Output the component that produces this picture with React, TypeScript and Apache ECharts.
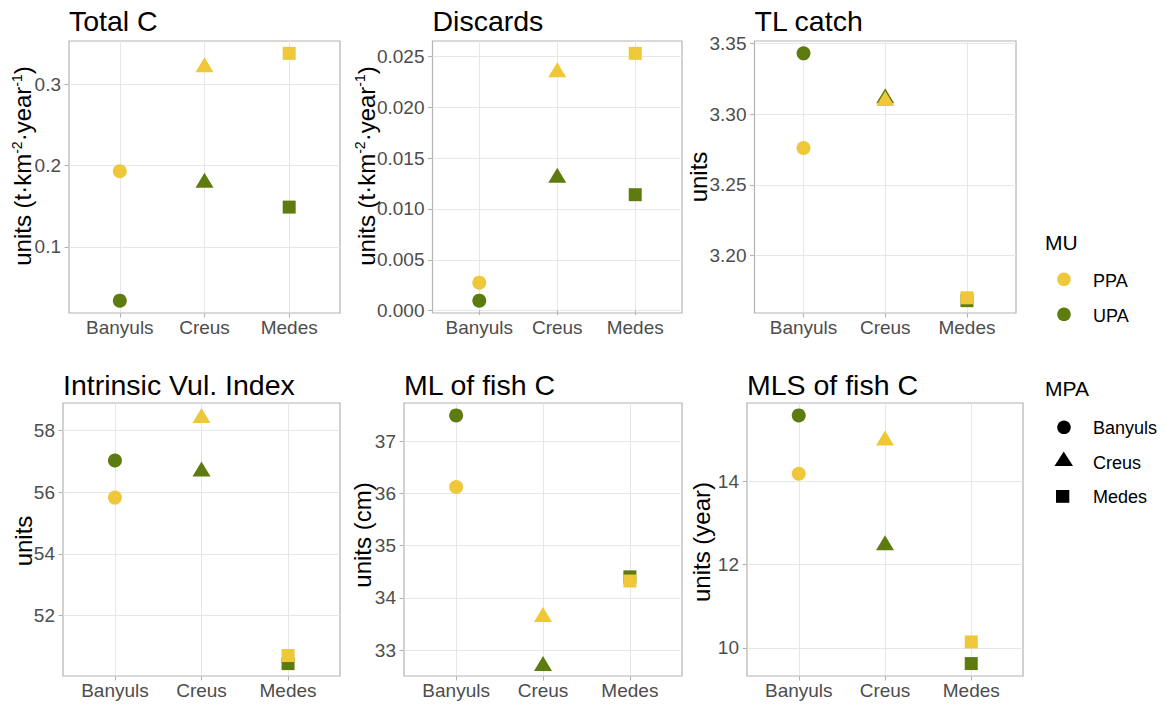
import React, { useEffect, useRef } from 'react';
import * as echarts from 'echarts';

// ---------- data ----------
const categories = ['Banyuls', 'Creus', 'Medes'];
const muGroups = ['PPA', 'UPA'];
const panelTitles = ['Total C', 'Discards', 'TL catch', 'Intrinsic Vul. Index', 'ML of fish C', 'MLS of fish C'];

const totalC_PPA = [0.193, 0.324, 0.338];
const totalC_UPA = [0.034, 0.182, 0.149];
const discards_PPA = [0.00275, 0.0237, 0.0253];
const discards_UPA = [0.00098, 0.0133, 0.0114];
const tlCatch_PPA = [3.276, 3.311, 3.170];
const tlCatch_UPA = [3.343, 3.313, 3.168];
const ivi_PPA = [55.82, 58.48, 50.71];
const ivi_UPA = [57.02, 56.75, 50.45];
const mlFish_PPA = [36.12, 33.68, 34.32];
const mlFish_UPA = [37.49, 32.74, 34.40];
const mlsFish_PPA = [14.18, 15.04, 10.14];
const mlsFish_UPA = [15.58, 12.52, 9.62];

const yTicks_totalC = [0.1, 0.2, 0.3];
const yTicks_discards = [0, 0.005, 0.01, 0.015, 0.02, 0.025];
const yTicks_tlCatch = [3.2, 3.25, 3.3, 3.35];
const yTicks_ivi = [52, 54, 56, 58];
const yTicks_mlFish = [33, 34, 35, 36, 37];
const yTicks_mlsFish = [10, 12, 14];
const xTicks = [1, 2, 3];

const yTitles = [
  'units (t·km{sup|-2}·year{sup|-1})',
  'units (t·km{sup|-2}·year{sup|-1})',
  'units',
  'units',
  'units (cm)',
  'units (year)',
];

// ---------- style ----------
const PPA_COLOR = '#EFC83A';
const UPA_COLOR = '#5E7B10';
const FONT = '"Liberation Sans", Arial, sans-serif';
const SHAPES = ['circle', 'triangle', 'rect'];
const SIZES: any[] = [14, [18, 15], 13];

const layout = [
  { left: 69, top: 41, width: 271, height: 272, nameX: 22.5, nameY: 166, titleY: 21 },
  { left: 432.5, top: 41, width: 249.5, height: 272, nameX: 366, nameY: 166, titleY: 21 },
  { left: 754.5, top: 41, width: 261.5, height: 272, nameX: 698, nameY: 177, titleY: 21 },
  { left: 63, top: 403, width: 277, height: 273, nameX: 23, nameY: 541, titleY: 384.5 },
  { left: 404, top: 403, width: 278, height: 273, nameX: 362.5, nameY: 535, titleY: 384.5 },
  { left: 747, top: 403, width: 276, height: 273, nameX: 701.5, nameY: 542, titleY: 384.5 },
];

const panelData = [
  { ppa: totalC_PPA, upa: totalC_UPA, ticks: yTicks_totalC, dec: 1 },
  { ppa: discards_PPA, upa: discards_UPA, ticks: yTicks_discards, dec: 3 },
  { ppa: tlCatch_PPA, upa: tlCatch_UPA, ticks: yTicks_tlCatch, dec: 2 },
  { ppa: ivi_PPA, upa: ivi_UPA, ticks: yTicks_ivi, dec: 0 },
  { ppa: mlFish_PPA, upa: mlFish_UPA, ticks: yTicks_mlFish, dec: 0 },
  { ppa: mlsFish_PPA, upa: mlsFish_UPA, ticks: yTicks_mlsFish, dec: 0 },
];

function buildOption() {
  const grid: any[] = [];
  const xAxis: any[] = [];
  const yAxis: any[] = [];
  const series: any[] = [];
  const graphic: any[] = [];

  panelData.forEach((p, i) => {
    const L = layout[i];
    grid.push({
      left: L.left, top: L.top, width: L.width, height: L.height,
      show: true, borderColor: '#B3B3B3', borderWidth: 1.2, backgroundColor: 'transparent',
    });
    xAxis.push({
      type: 'value', gridIndex: i, min: 0.4, max: 3.6,
      axisLine: { show: false },
      axisTick: { show: true, length: 4.5, customValues: xTicks, lineStyle: { color: '#B3B3B3', width: 1.1 } },
      axisLabel: {
        customValues: xTicks, margin: 5, color: '#4D4D4D', fontSize: 19, fontFamily: FONT,
        formatter: (v: number) => categories[Math.round(v) - 1],
      },
      splitLine: { show: true, lineStyle: { color: '#E6E6E6', width: 1 } },
    });
    yAxis.push({
      type: 'value', gridIndex: i,
      min: (e: any) => e.min - 0.05 * (e.max - e.min),
      max: (e: any) => e.max + 0.05 * (e.max - e.min),
      axisLine: { show: false },
      axisTick: { show: true, length: 4.5, customValues: p.ticks, lineStyle: { color: '#B3B3B3', width: 1.1 } },
      axisLabel: {
        customValues: p.ticks, margin: 8, color: '#4D4D4D', fontSize: 19, fontFamily: FONT,
        formatter: (v: number) => v.toFixed(p.dec),
      },
      splitLine: { show: true, lineStyle: { color: '#E6E6E6', width: 1 } },
    });
    const mk = (vals: number[]) => vals.map((v, j) => ({ value: [xTicks[j], v], symbol: SHAPES[j], symbolSize: SIZES[j] }));
    series.push({
      type: 'scatter', name: muGroups[1], xAxisIndex: i, yAxisIndex: i,
      itemStyle: { color: UPA_COLOR, opacity: 1 }, data: mk(p.upa), z: 3,
    });
    series.push({
      type: 'scatter', name: muGroups[0], xAxisIndex: i, yAxisIndex: i,
      itemStyle: { color: PPA_COLOR, opacity: 1 }, data: mk(p.ppa), z: 4,
    });
    graphic.push({
      type: 'text', x: L.left, y: L.titleY,
      style: { text: panelTitles[i], fontSize: 28.5, fontFamily: FONT, fill: '#000', textAlign: 'left', textVerticalAlign: 'middle' },
    });
    graphic.push({
      type: 'text', x: L.nameX, y: L.nameY, rotation: Math.PI / 2,
      style: {
        text: yTitles[i], fontSize: 24, fontFamily: FONT, fill: '#000', lineHeight: 26,
        textAlign: 'center', textVerticalAlign: 'middle',
        rich: { sup: { fontSize: 14, fontFamily: FONT, fill: '#000', verticalAlign: 'top', lineHeight: 14 } },
      },
    });
  });

  // legends
  const lt = { fontSize: 18, fontFamily: FONT, fill: '#000', textAlign: 'left', textVerticalAlign: 'middle' };
  graphic.push({ type: 'text', x: 1045, y: 242.5, style: { ...lt, text: 'MU', fontSize: 21 } });
  graphic.push({ type: 'circle', shape: { cx: 1064, cy: 279.3, r: 6.8 }, style: { fill: PPA_COLOR } });
  graphic.push({ type: 'text', x: 1093, y: 280.5, style: { ...lt, text: muGroups[0] } });
  graphic.push({ type: 'circle', shape: { cx: 1064, cy: 314.3, r: 6.8 }, style: { fill: UPA_COLOR } });
  graphic.push({ type: 'text', x: 1093, y: 315.5, style: { ...lt, text: muGroups[1] } });

  graphic.push({ type: 'text', x: 1045, y: 388.5, style: { ...lt, text: 'MPA', fontSize: 21 } });
  graphic.push({ type: 'circle', shape: { cx: 1064, cy: 427.3, r: 6.8 }, style: { fill: '#000' } });
  graphic.push({ type: 'text', x: 1093, y: 428, style: { ...lt, text: categories[0] } });
  graphic.push({ type: 'polygon', shape: { points: [[1054.5, 466], [1073, 466], [1063.7, 451.5]] }, style: { fill: '#000' } });
  graphic.push({ type: 'text', x: 1093, y: 462.5, style: { ...lt, text: categories[1] } });
  graphic.push({ type: 'rect', shape: { x: 1056, y: 490, width: 13.3, height: 12.8 }, style: { fill: '#000' } });
  graphic.push({ type: 'text', x: 1093, y: 497, style: { ...lt, text: categories[2] } });

  return {
    animation: false,
    backgroundColor: '#fff',
    textStyle: { fontFamily: FONT },
    grid, xAxis, yAxis, series, graphic,
  };
}

export default function App() {
  const ref = useRef<HTMLDivElement>(null);
  useEffect(() => {
    if (!ref.current) return;
    const chart = echarts.init(ref.current, undefined, { renderer: 'svg' });
    chart.setOption(buildOption() as any);
    return () => chart.dispose();
  }, []);
  return (
    <div
      ref={ref}
      style={{ position: 'absolute', left: 0, top: 0, width: 1167, height: 704, background: '#fff' }}
    />
  );
}
